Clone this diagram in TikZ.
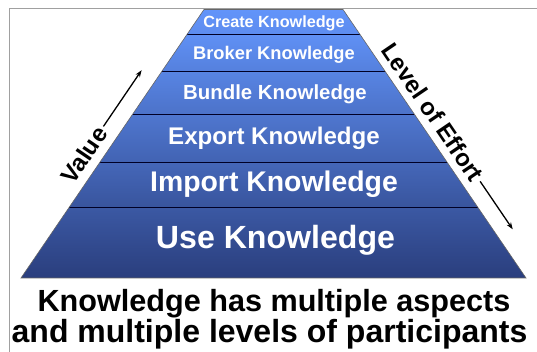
\documentclass[tikz,border=0pt]{standalone}
\usepackage{fontspec}
\setmainfont{Liberation Sans}
\usetikzlibrary{calc,arrows.meta}

\definecolor{pyrtop}{RGB}{98,148,250}
\definecolor{pyrbot}{RGB}{42,62,125}
\definecolor{bordergray}{RGB}{160,160,160}
\newcommand{\fsz}[1]{\fontsize{#1}{#1}\selectfont}

\begin{document}
\begin{tikzpicture}[x=1pt,y=1pt,
		tiertext/.style={text=white,anchor=base,inner sep=0pt},
		tierline/.style={draw=black!85!blue,line width=0.8pt},
		sidetext/.style={text=black,inner sep=3pt,font=\bfseries\fsz{24}},
		sidearrow/.style={-{Stealth[length=7pt,width=5pt]},line width=1.3pt},
		captext/.style={text=black,anchor=base,inner sep=0pt,font=\bfseries}]
		\useasboundingbox (0,0) rectangle (537,352);
		\draw[bordergray,line width=1pt] (9,0) -- (9,343) -- (537,343);

		% corners of the pyramid, then the tier boundaries
		\coordinate (a0) at (204,342.5);
		\coordinate (b0) at (343,342.5);
		\coordinate (a6) at (21,74);
		\coordinate (b6) at (526,74);
		\coordinate (a1) at ($(a0)!0.0912!(a6)$);
		\coordinate (b1) at ($(b0)!0.0912!(b6)$);
		\coordinate (a2) at ($(a0)!0.229!(a6)$);
		\coordinate (b2) at ($(b0)!0.229!(b6)$);
		\coordinate (a3) at ($(a0)!0.389!(a6)$);
		\coordinate (b3) at ($(b0)!0.389!(b6)$);
		\coordinate (a4) at ($(a0)!0.568!(a6)$);
		\coordinate (b4) at ($(b0)!0.568!(b6)$);
		\coordinate (a5) at ($(a0)!0.7356!(a6)$);
		\coordinate (b5) at ($(b0)!0.7356!(b6)$);

		\shade[top color=pyrtop,bottom color=pyrtop!91!pyrbot]		(a0) -- (b0) -- (b1) -- (a1) -- cycle;
		\shade[top color=pyrtop!96!pyrbot,bottom color=pyrtop!77!pyrbot]	(a1) -- (b1) -- (b2) -- (a2) -- cycle;
		\shade[top color=pyrtop!82!pyrbot,bottom color=pyrtop!61!pyrbot]	(a2) -- (b2) -- (b3) -- (a3) -- cycle;
		\shade[top color=pyrtop!66!pyrbot,bottom color=pyrtop!43!pyrbot]	(a3) -- (b3) -- (b4) -- (a4) -- cycle;
		\shade[top color=pyrtop!48!pyrbot,bottom color=pyrtop!26!pyrbot]	(a4) -- (b4) -- (b5) -- (a5) -- cycle;
		\shade[top color=pyrtop!31!pyrbot,bottom color=pyrbot]			(a5) -- (b5) -- (b6) -- (a6) -- cycle;

		\draw[tierline] (a1) -- (b1);
		\draw[tierline] (a2) -- (b2);
		\draw[tierline] (a3) -- (b3);
		\draw[tierline] (a4) -- (b4);
		\draw[tierline] (a5) -- (b5);
		\draw[black!60,line width=0.6pt] (a0) -- (b0) -- (b6) -- (a6) -- cycle;

		\node[tiertext,font=\bfseries\fsz{16.2}]	(create)	at (274,324.3)	{Create Knowledge};
		\node[tiertext,font=\bfseries\fsz{18.3}]	(broker)	at (274,292.7)	{Broker Knowledge};
		\node[tiertext,font=\bfseries\fsz{20.4}]	(bundle)	at (275,252.7)	{Bundle Knowledge};
		\node[tiertext,font=\bfseries\fsz{24.1}]	(export)	at (274,207)	{Export Knowledge};
		\node[tiertext,font=\bfseries\fsz{28.4}]	(import)	at (274,160.3)	{Import Knowledge};
		\node[tiertext,font=\bfseries\fsz{32.1}]	(use)		at (275.5,103)	{Use Knowledge};

		% side labels with their arrows
		\node[sidetext,rotate=55.8]		(value)		at (84,197)		{Value};
		\coordinate (valuetip) at ($(value.east)+(55.8:68)$);
		\draw[sidearrow] (value.east) -- (valuetip);

		\node[sidetext,rotate=-55.8]	(effort)	at (433,240)	{Level of Effort};
		\coordinate (efforttip) at ($(effort.east)+(-55.8:58)$);
		\draw[sidearrow] (effort.east) -- (efforttip);

		\node[captext,font=\bfseries\fsz{30.6}]	(capA)	at (274,40)		{Knowledge has multiple aspects};
		\node[captext,font=\bfseries\fsz{32}]	(capB)	at (269.5,9)	{and multiple levels of participants};
	\end{tikzpicture}
\end{document}
